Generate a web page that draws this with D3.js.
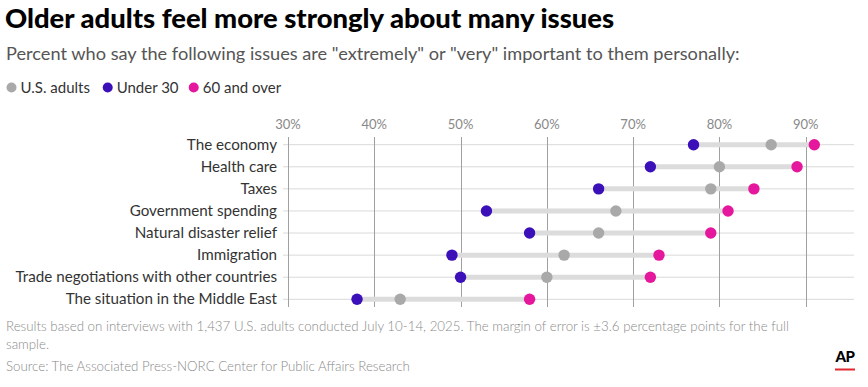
<!DOCTYPE html>
<html><head><meta charset="utf-8">
<script src="https://cdn.jsdelivr.net/npm/d3@7"></script>
<style>
html,body{margin:0;padding:0;background:#fff;}
svg{display:block;font-family:Lato,"Open Sans",sans-serif;}
</style></head>
<body><svg id="chart" width="868" height="387"></svg>
<script>
const categories = ["The economy","Health care","Taxes","Government spending","Natural disaster relief","Immigration","Trade negotiations with other countries","The situation in the Middle East"];
const usAdults = [86,80,79,68,66,62,60,43];
const under30  = [77,72,66,53,58,49,50,38];
const over60   = [91,89,84,81,79,73,72,58];
const tickValues = [30,40,50,60,70,80,90];
const tickLabels = ["30%","40%","50%","60%","70%","80%","90%"];
const seriesNames = ["U.S. adults","Under 30","60 and over"];
const colors = ["#a9a9a9","#3c10b8","#e5179c"];

const svg = d3.select("#chart");
const x = d3.scaleLinear().domain([30,95.6]).range([288,854]);
const y = d3.scalePoint().domain(categories).range([144.7,299.3]);

svg.append("text").attr("x",5).attr("y",28).attr("font-size",27.4).attr("font-weight",900).attr("fill","#000")
  .text("Older adults feel more strongly about many issues");
svg.append("text").attr("x",6).attr("y",60).attr("font-size",18.2).attr("fill","#555")
  .text('Percent who say the following issues are "extremely" or "very" important to them personally:');

// legend
const legX = [11.5,107.7,193.7];
seriesNames.forEach((n,i)=>{
  svg.append("circle").attr("cx",legX[i]).attr("cy",87.5).attr("r",5).attr("fill",colors[i]);
  svg.append("text").attr("x",legX[i]+9).attr("y",92.5).attr("font-size",15).attr("fill","#333").text(n);
});

// horizontal gridlines
svg.append("g").selectAll("line").data(categories).join("line")
  .attr("x1",283).attr("x2",x.range()[1]).attr("y1",d=>y(d)).attr("y2",d=>y(d))
  .attr("stroke","#d9d9d9").attr("stroke-width",1);

// vertical gridlines
svg.append("g").selectAll("line").data(tickValues).join("line")
  .attr("x1",d=>Math.round(x(d))+0.5).attr("x2",d=>Math.round(x(d))+0.5)
  .attr("y1",137).attr("y2",307).attr("stroke","#a0a0a0").attr("stroke-width",1);

// tick labels
svg.append("g").selectAll("text").data(tickValues).join("text")
  .attr("x",d=>x(d)).attr("y",128.5).attr("text-anchor","middle").attr("font-size",13).attr("fill","#888")
  .text((d,i)=>tickLabels[i]);

// category labels
svg.append("g").selectAll("text").data(categories).join("text")
  .attr("x",277).attr("y",d=>y(d)+5).attr("text-anchor","end").attr("font-size",15.2).attr("fill","#333")
  .text(d=>d);

// connecting bars
svg.append("g").selectAll("line").data(categories).join("line")
  .attr("x1",(d,i)=>x(Math.min(under30[i],usAdults[i],over60[i])))
  .attr("x2",(d,i)=>x(Math.max(under30[i],usAdults[i],over60[i])))
  .attr("y1",d=>y(d)).attr("y2",d=>y(d)).attr("stroke","#dcdcdc").attr("stroke-width",5);

const series = [usAdults,under30,over60];
series.forEach((vals,s)=>{
  svg.append("g").selectAll("circle").data(categories).join("circle")
    .attr("cx",(d,i)=>x(vals[i])).attr("cy",d=>y(d)).attr("r",5.7).attr("fill",colors[s]);
});

// footer
const foot = svg.append("g").attr("font-size",13.3).attr("fill","#8a8a8a").attr("font-weight",300);
foot.append("text").attr("x",6).attr("y",331).text("Results based on interviews with 1,437 U.S. adults conducted July 10-14, 2025. The margin of error is ±3.6 percentage points for the full");
foot.append("text").attr("x",6).attr("y",349).text("sample.");
foot.append("text").attr("x",6).attr("y",370.5).text("Source: The Associated Press-NORC Center for Public Affairs Research");

// AP logo
svg.append("text").attr("x",845).attr("y",362).attr("text-anchor","middle").attr("font-size",15).attr("font-weight",900)
  .attr("fill","#000").attr("letter-spacing",-0.5).text("AP");
svg.append("rect").attr("x",835).attr("y",368.5).attr("width",20).attr("height",2).attr("fill","#e0282e");
</script></body></html>
